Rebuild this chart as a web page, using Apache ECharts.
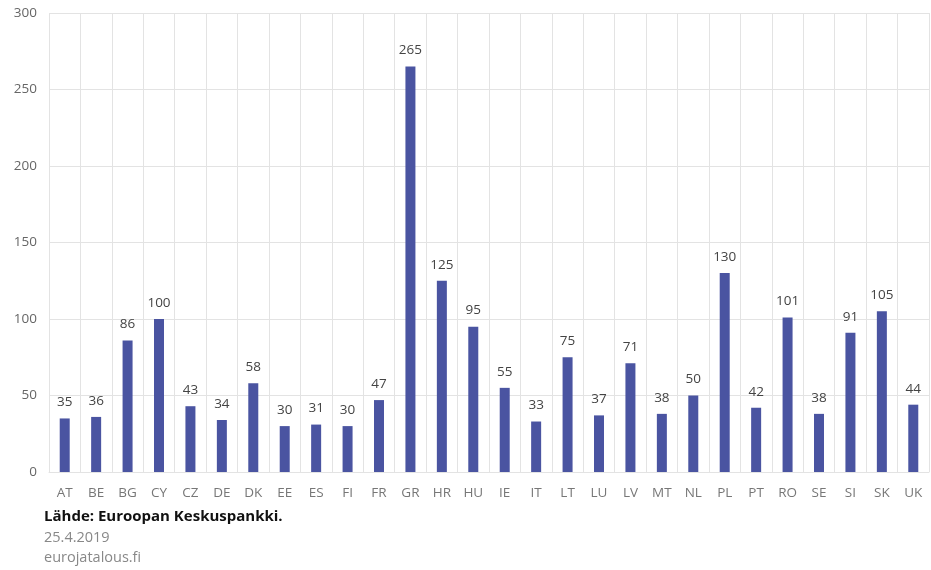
<!DOCTYPE html>
<html>
<head>
<meta charset="utf-8">
<script src="https://cdn.jsdelivr.net/npm/echarts@6/dist/echarts.min.js"></script>
<style>
    body { margin: 0; background: #fff; }
    #chart { width: 931px; height: 570px; }
</style>
</head>
<body>
<div id="chart"></div>
<script>
const countries = ['AT', 'BE', 'BG', 'CY', 'CZ', 'DE', 'DK', 'EE', 'ES', 'FI', 'FR', 'GR', 'HR', 'HU',
    'IE', 'IT', 'LT', 'LU', 'LV', 'MT', 'NL', 'PL', 'PT', 'RO', 'SE', 'SI', 'SK', 'UK']
const values = [35, 36, 86, 100, 43, 34, 58, 30, 31, 30, 47, 265, 125, 95,
    55, 33, 75, 37, 71, 38, 50, 130, 42, 101, 38, 91, 105, 44]
const footerLines = ['Lähde: Euroopan Keskuspankki.', '25.4.2019', 'eurojatalous.fi']

const font = '"Open Sans", "Noto Sans", sans-serif'
const gridColor = '#e3e3e3'

const myChart = echarts.init(document.getElementById('chart'))
let option = {
    animation: false,
    grid: {
        left: 49,
        right: 2,
        top: 13,
        bottom: 98
    },
    xAxis: {
        type: 'category',
        data: countries,
        axisLine: { lineStyle: { color: gridColor } },
        axisTick: { show: false },
        splitLine: { show: true, interval: 0, lineStyle: { color: gridColor } },
        axisLabel: {
            interval: 0,
            margin: 14,
            color: '#777',
            fontFamily: font,
            fontSize: 13.5
        }
    },
    yAxis: {
        type: 'value',
        min: 0,
        max: 300,
        interval: 50,
        axisLine: { show: false },
        axisTick: { show: false },
        splitLine: { lineStyle: { color: gridColor } },
        axisLabel: {
            margin: 12,
            color: '#666',
            fontFamily: font,
            fontSize: 13.5
        }
    },
    series: [{
        type: 'bar',
        barWidth: 10,
        data: values,
        itemStyle: { color: '#4a54a1' },
        label: {
            show: true,
            position: 'top',
            distance: 9,
            color: '#444',
            fontFamily: font,
            fontSize: 13.5
        }
    }],
    graphic: footerLines.map((t, i) => ({
        type: 'text',
        left: 44,
        top: i == 0 ? 509 : 510 + i * 20,
        style: {
            text: t,
            fill: i == 0 ? '#111' : '#888',
            font: (i == 0 ? 'bold 15px ' : '14.5px ') + font
        }
    }))
}
myChart.setOption(option)
</script>
</body>
</html>
